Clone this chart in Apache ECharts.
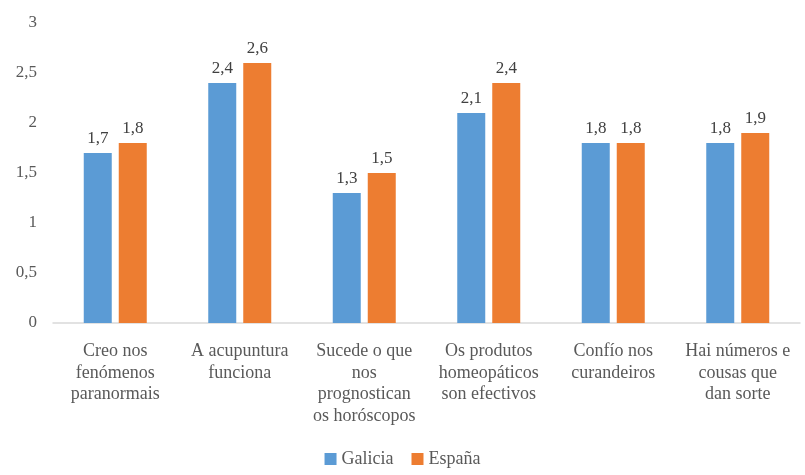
<!DOCTYPE html>
<html><head><meta charset="utf-8">
<script src="https://cdn.jsdelivr.net/npm/echarts@6/dist/echarts.min.js"></script>
<style>html,body{margin:0;padding:0;background:#fff}#c{width:805px;height:475px}</style>
</head><body><div id="c"></div>
<script>
const categories = ["Creo nos\nfenómenos\nparanormais","A acupuntura\nfunciona","Sucede o que\nnos\nprognostican\nos horóscopos","Os produtos\nhomeopáticos\nson efectivos","Confío nos\ncurandeiros","Hai números e\ncousas que\ndan sorte"];
const galicia = [1.7,2.4,1.3,2.1,1.8,1.8];
const espana = [1.8,2.6,1.5,2.4,1.8,1.9];
const fmt = v => String(v).replace('.', ',');
const font = 'Liberation Serif';
const chart = echarts.init(document.getElementById('c'));
const lbl = {show:true,position:'top',distance:6,color:'#404040',fontFamily:font,fontSize:17,formatter:p=>fmt(p.value)};
chart.setOption({
  animation:false,
  textStyle:{fontFamily:font},
  grid:{left:53,right:5,top:23,bottom:152},
  legend:{bottom:2,left:'center',itemWidth:12,itemHeight:12,itemGap:18,icon:'rect',
    textStyle:{fontFamily:font,fontSize:18,color:'#595959'},data:['Galicia','España']},
  xAxis:{type:'category',data:categories,
    axisLine:{lineStyle:{color:'#d9d9d9',width:1.5}},axisTick:{show:false},
    axisLabel:{interval:0,color:'#595959',fontFamily:font,fontSize:18,lineHeight:21.5,margin:18}},
  yAxis:{type:'value',min:0,max:3,interval:0.5,splitLine:{show:false},
    axisLine:{show:false},axisTick:{show:false},
    axisLabel:{color:'#595959',fontFamily:font,fontSize:17,margin:16,formatter:v=>fmt(v)}},
  series:[
    {name:'Galicia',type:'bar',data:galicia,barWidth:28,barGap:'25%',itemStyle:{color:'#5b9bd5'},label:lbl},
    {name:'España',type:'bar',data:espana,barWidth:28,itemStyle:{color:'#ed7d31'},label:lbl}
  ]
});
</script></body></html>
